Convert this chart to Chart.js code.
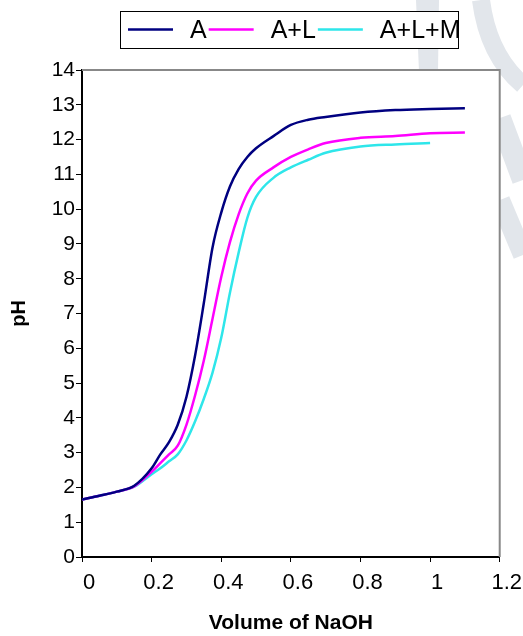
<!DOCTYPE html>
<html>
<head>
<meta charset="utf-8">
<script src="https://cdn.jsdelivr.net/npm/chart.js@4"></script>
<style>
  html, body { margin: 0; padding: 0; background: #fff; }
  canvas { display: block; }
</style>
</head>
<body>
<canvas id="phChart" width="523" height="636"></canvas>
<script>
/* titration curves - pH vs volume of NaOH */

const volume = [0, 0.05, 0.1, 0.15, 0.2, 0.225, 0.25, 0.275, 0.3, 0.325, 0.35, 0.375, 0.4, 0.425, 0.45, 0.475, 0.5, 0.55, 0.6, 0.65, 0.7, 0.8, 0.9, 1.0, 1.1];
const phA   = [1.65, 1.76, 1.88, 2.05, 2.55, 2.95, 3.3, 3.8, 4.6, 5.8, 7.3, 8.9, 9.9, 10.65, 11.15, 11.5, 11.75, 12.1, 12.42, 12.57, 12.65, 12.78, 12.85, 12.88, 12.9];
const phAL  = [1.65, 1.76, 1.88, 2.03, 2.45, 2.7, 2.95, 3.2, 3.8, 4.65, 5.65, 6.85, 8.05, 9.05, 9.85, 10.45, 10.82, 11.2, 11.5, 11.72, 11.9, 12.05, 12.1, 12.18, 12.2];
const phALM = [1.65, 1.76, 1.88, 2.02, 2.38, 2.55, 2.75, 2.95, 3.35, 3.9, 4.55, 5.3, 6.3, 7.6, 8.75, 9.75, 10.35, 10.9, 11.2, 11.42, 11.62, 11.8, 11.86, 11.9];
const seriesNames = ['A', 'A+L', 'A+L+M'];
const seriesColors = ['#000080', '#ff00ff', '#2ee6ea'];

const toPoints = ys => ys.map((y, i) => ({ x: volume[i], y: y }));

Chart.defaults.font.family = '"Liberation Sans", Arial, sans-serif';
Chart.defaults.color = '#000';

// page background, faint watermark, white plot area, grey top/right frame
const framePlugin = {
    id: 'frame',
    beforeDraw(chart) {
        const { ctx, chartArea: a, width, height } = chart;
        ctx.save();
        ctx.fillStyle = '#fff';
        ctx.fillRect(0, 0, width, height);
        ctx.fillStyle = '#e2e6eb';
        ctx.strokeStyle = '#e2e6eb';
        ctx.beginPath();
        ctx.moveTo(416, 0); ctx.lineTo(439, 0); ctx.lineTo(438, 72); ctx.lineTo(419, 72);
        ctx.closePath(); ctx.fill();
        ctx.lineWidth = 18;
        ctx.beginPath(); ctx.moveTo(481, 0); ctx.quadraticCurveTo(488, 55, 523, 85); ctx.stroke();
        ctx.lineWidth = 22;
        ctx.beginPath(); ctx.moveTo(500, 118); ctx.lineTo(523, 180); ctx.stroke();
        ctx.lineWidth = 20;
        ctx.beginPath(); ctx.moveTo(500, 200); ctx.lineTo(523, 255); ctx.stroke();
        ctx.fillStyle = '#fff';
        ctx.fillRect(a.left, a.top, a.right - a.left, a.bottom - a.top);
        ctx.restore();
    },
    beforeDatasetsDraw(chart) {
        const { ctx, chartArea: a } = chart;
        ctx.save();
        ctx.strokeStyle = '#888';
        ctx.lineWidth = 2;
        ctx.beginPath();
        ctx.moveTo(a.left, a.top);
        ctx.lineTo(a.right, a.top);
        ctx.lineTo(a.right, a.bottom);
        ctx.stroke();
        ctx.restore();
    }
};

// boxed legend at the top
const legendBox = {
    id: 'legendBox',
    afterDraw(chart) {
        const { ctx } = chart;
        ctx.save();
        ctx.fillStyle = '#fff';
        ctx.fillRect(120, 11, 339, 38);
        ctx.font = '25px "Liberation Sans", Arial, sans-serif';
        ctx.textBaseline = 'alphabetic';
        let x = 128;
        chart.data.datasets.forEach(ds => {
            ctx.strokeStyle = ds.borderColor;
            ctx.lineWidth = 2.5;
            ctx.beginPath(); ctx.moveTo(x, 29.5); ctx.lineTo(x + 45, 29.5); ctx.stroke();
            ctx.fillStyle = '#000';
            ctx.fillText(ds.label, x + 62, 38);
            x = x + 62 + ctx.measureText(ds.label).width + 2;
        });
        ctx.strokeStyle = '#000';
        ctx.lineWidth = 1;
        ctx.strokeRect(120.5, 11.5, 338, 37);
        ctx.restore();
    }
};

new Chart(document.getElementById('phChart'), {
    type: 'scatter',
    data: {
        datasets: [phA, phAL, phALM].map((ys, i) => ({
            label: seriesNames[i],
            data: toPoints(ys),
            showLine: true,
            borderColor: seriesColors[i],
            backgroundColor: seriesColors[i],
            borderWidth: 2.5,
            pointRadius: 0,
            cubicInterpolationMode: 'monotone'
        }))
    },
    options: {
        responsive: false,
        animation: false,
        layout: { padding: { top: 70, right: 23, left: 0, bottom: 0 } },
        plugins: { legend: { display: false }, tooltip: { enabled: false } },
        scales: {
            x: {
                type: 'linear', min: 0, max: 1.2,
                afterFit(s) { s.height = 79; },
                ticks: {
                    stepSize: 0.2, font: { size: 22 }, padding: 8, labelOffset: 7,
                    callback: v => String(Number(v.toFixed(1)))
                },
                grid: { drawOnChartArea: false, tickLength: 5, tickColor: '#000' },
                border: { color: '#000', width: 2 },
                title: { display: true, text: 'Volume of NaOH', font: { size: 21, weight: 'bold' }, padding: { top: 0, bottom: 0 } }
            },
            y: {
                min: 0, max: 14,
                afterFit(s) { s.width = 82; },
                ticks: { stepSize: 1, font: { size: 21 }, padding: 1 },
                grid: { drawOnChartArea: false, tickLength: 6, tickColor: '#000' },
                border: { color: '#000', width: 2 },
                title: { display: true, text: 'pH', font: { size: 20, weight: 'bold' }, padding: { top: 7, bottom: 0 } }
            }
        }
    },
    plugins: [framePlugin, legendBox]
});
</script>
</body>
</html>
